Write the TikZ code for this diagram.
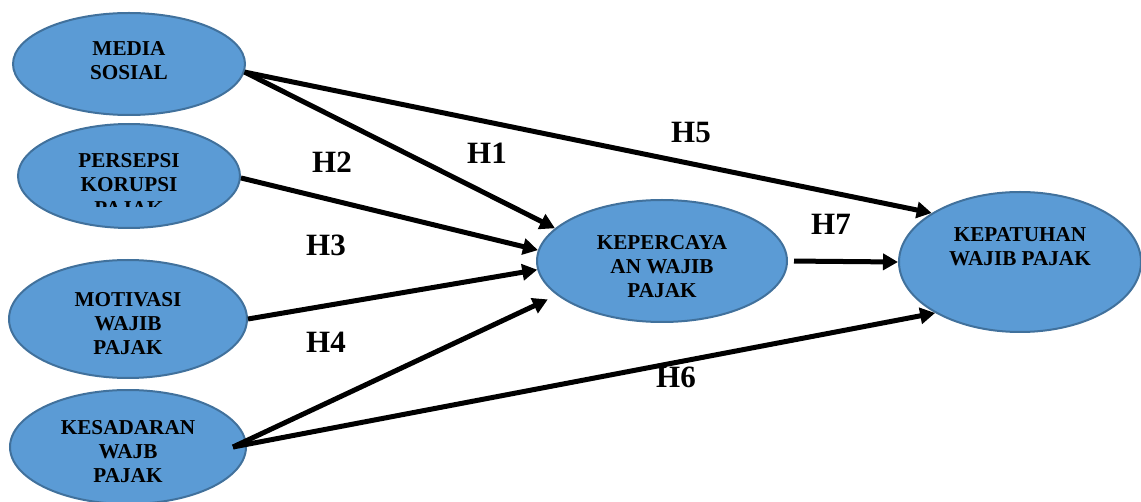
\documentclass[tikz,border=0pt]{standalone}
\usepackage{fontspec}
\setmainfont{Liberation Serif}
\usetikzlibrary{shapes.geometric,arrows.meta}
\definecolor{varfill}{HTML}{5B9BD5}
\definecolor{varline}{HTML}{41719C}

\begin{document}
\begin{tikzpicture}[x=0.5pt,y=-0.5pt,>={Triangle[length=7.5pt,width=8pt]},
    var/.style={ellipse,draw=varline,fill=varfill,line width=1pt,inner sep=0pt},
    vartext/.style={font=\fontsize{10.6}{12}\selectfont\bfseries,align=center},
    hyp/.style={font=\fontsize{15.5}{18}\selectfont\bfseries},
    every edge/.style={draw,line width=2.5pt}]
                \useasboundingbox (0,0) rectangle (1141,502);
                % variables
                \node[var,minimum width=116pt,minimum height=51pt] (media) at (129,64) {};
                \node[var,minimum width=111pt,minimum height=52pt] (persepsi) at (129,176) {};
                \node[var,minimum width=119pt,minimum height=59pt] (motivasi) at (128,319) {};
                \node[var,minimum width=118pt,minimum height=57pt] (kesadaran) at (128,447) {};
                \node[var,minimum width=125pt,minimum height=61pt] (kepercayaan) at (662,261) {};
                \node[var,minimum width=121pt,minimum height=70pt] (kepatuhan) at (1020,262) {};
                \node[vartext] (mediatext) at (129,61) {MEDIA\\SOSIAL};
                \begin{scope}
                    \clip (0,120) rectangle (300,207);
                    \node[vartext] (persepsitext) at (129,185) {PERSEPSI\\KORUPSI\\PAJAK};
                \end{scope}
                \node[vartext] (motivasitext) at (128,324) {MOTIVASI\\WAJIB\\PAJAK};
                \node[vartext] (kesadarantext) at (128,452) {KESADARAN\\WAJB\\PAJAK};
                \node[vartext] (kepercayaantext) at (662,267) {KEPERCAYA\\AN WAJIB\\PAJAK};
                \node[vartext] (kepatuhantext) at (1020,247) {KEPATUHAN\\WAJIB PAJAK};
                % hypotheses
                \path[->] (media.-4) edge (kepercayaan.163)
                                     edge (kepatuhan.151);
                \path[->] (persepsi.-1) edge (kepercayaan.175);
                \path[->] (motivasi.east) edge (kepercayaan.184);
                \path[->] ([xshift=-7pt]kesadaran.east) edge[shorten >=5pt] (kepercayaan.198)
                                                        edge (kepatuhan.211);
                \path[->] (kepercayaan.east) edge[shorten <=3pt] (kepatuhan.west);
                \node[hyp] (h1) at (487,153) {H1};
                \node[hyp] (h2) at (332,162) {H2};
                \node[hyp] (h3) at (326,245) {H3};
                \node[hyp] (h4) at (326,342) {H4};
                \node[hyp] (h5) at (691,133) {H5};
                \node[hyp] (h6) at (676,377) {H6};
                \node[hyp] (h7) at (831,224) {H7};
            \end{tikzpicture}
\end{document}
